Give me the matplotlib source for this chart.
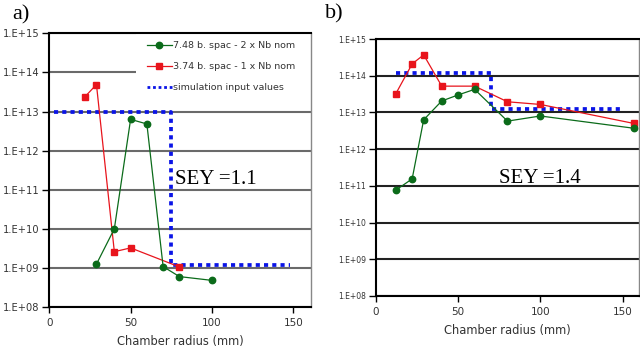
import matplotlib
matplotlib.use("Agg")
import matplotlib.pyplot as plt
from matplotlib.ticker import FuncFormatter, FixedLocator
from matplotlib.patches import Rectangle
from matplotlib.lines import Line2D
import numpy as np

# ---- data (panel a, SEY = 1.1) ----
a_green_x = [29, 40, 50, 60, 70, 80, 100]
a_green_y = [1.25e9, 1.0e10, 6.3e12, 4.8e12, 1.08e9, 6.0e8, 4.8e8]
a_red_x = [22, 29, 40, 50, 80]
a_red_y = [2.4e13, 4.9e13, 2.6e9, 3.25e9, 1.06e9]
a_sim_x = [3, 75, 75, 148]
a_sim_y = [1.0e13, 1.0e13, 1.2e9, 1.2e9]

# ---- data (panel b, SEY = 1.4) ----
b_green_x = [12, 22, 29, 40, 50, 60, 80, 100, 157]
b_green_y = [7.6e10, 1.55e11, 6.3e12, 2.05e13, 3.0e13, 4.25e13, 5.8e12, 8.0e12, 3.7e12]
b_red_x = [12, 22, 29, 40, 60, 80, 100, 157]
b_red_y = [3.2e13, 2.1e14, 3.7e14, 5.2e13, 5.2e13, 1.95e13, 1.65e13, 5.0e12]
b_sim_x = [12, 70, 70, 150]
b_sim_y = [1.16e14, 1.16e14, 1.23e13, 1.23e13]

legend_labels = ["7.48 b. spac - 2 x Nb nom", "3.74 b. spac - 1 x Nb nom", "simulation input values"]
x_ticks = [0, 50, 100, 150]
y_ticks = [1e8, 1e9, 1e10, 1e11, 1e12, 1e13, 1e14, 1e15]
xlabel = "Chamber radius (mm)"

GREEN = "#0b6b1a"
RED = "#e8141c"
BLUE = "#0a14e6"

fig = plt.figure(figsize=(6.4, 3.52), dpi=100)
axA = fig.add_axes([0.0770, 0.1278, 0.4084, 0.7776])
axB = fig.add_axes([0.5875, 0.1591, 0.4109, 0.7301])

def fmt(v, pos):
    e = int(round(np.log10(v)))
    return "1.E+%02d" % e

def style(ax, gridcolor, xmax, ylab_size):
    ax.set_yscale("log")
    ax.set_ylim(1e8, 1e15)
    ax.set_xlim(0, xmax)
    ax.yaxis.set_major_locator(FixedLocator(y_ticks))
    ax.yaxis.set_minor_locator(FixedLocator([]))
    ax.yaxis.set_major_formatter(FuncFormatter(fmt))
    ax.set_xticks(x_ticks)
    ax.tick_params(axis="y", labelsize=ylab_size, length=5, width=1, pad=2,
                   direction="out", labelcolor="#333333")
    ax.tick_params(axis="x", labelsize=7.5, length=4, width=1, pad=4,
                   direction="out", labelcolor="#333333")
    ax.set_axisbelow(True)
    ax.grid(True, axis="y", color=gridcolor, linewidth=1.5)
    for s in ["left", "bottom", "top"]:
        ax.spines[s].set_linewidth(1.5)
    ax.spines["right"].set_linewidth(1.0)
    ax.spines["right"].set_color("#888888")
    ax.set_xlabel(xlabel, fontsize=8.3, color="#333333", labelpad=5)

style(axA, "#6a6a6a", 160.7, 7.1)
style(axB, "#222222", 160.0, 5.5)

for ax, gx, gy, rx, ry, sx, sy in [
    (axA, a_green_x, a_green_y, a_red_x, a_red_y, a_sim_x, a_sim_y),
    (axB, b_green_x, b_green_y, b_red_x, b_red_y, b_sim_x, b_sim_y),
]:
    ax.plot(sx, sy, color=BLUE, linewidth=2.7, dashes=(1.1, 1.1),
            dash_capstyle="butt", zorder=3)
    ax.plot(rx, ry, color=RED, linewidth=0.9, marker="s", markersize=5, zorder=4)
    ax.plot(gx, gy, color=GREEN, linewidth=0.9, marker="o", markersize=4.6, zorder=5)

# white legend area covering the gridlines
axA.add_patch(Rectangle((0.332, 0.76), 0.668, 0.24, transform=axA.transAxes,
                        facecolor="white", edgecolor="none", zorder=1))

handles = [
    Line2D([], [], color=GREEN, linewidth=0.9, marker="o", markersize=4.6),
    Line2D([], [], color=RED, linewidth=0.9, marker="s", markersize=5),
    Line2D([], [], color=BLUE, linewidth=2.0, dashes=(1.0, 1.0), dash_capstyle="butt"),
]
leg = axA.legend(handles, legend_labels,
                 loc="upper left", bbox_to_anchor=(0.352, 0.993),
                 fontsize=6.8, frameon=False, handlelength=2.65, handletextpad=0.12,
                 labelspacing=1.28, borderpad=0.6, borderaxespad=0.0)
leg.set_zorder(2)
for t in leg.get_texts():
    t.set_color("#333333")

axA.text(77, 1.8e11, "SEY =1.1", fontsize=15, family="Liberation Serif",
         ha="left", va="center")
axB.text(75, 1.6e11, "SEY =1.4", fontsize=15, family="Liberation Serif",
         ha="left", va="center")

fig.text(12 / 640, 1 - 5 / 352, "a)", fontsize=16, family="Liberation Serif",
         ha="left", va="top")
fig.text(325 / 640, 1 - 4 / 352, "b)", fontsize=16, family="Liberation Serif",
         ha="left", va="top")

fig.savefig("out.png", dpi=100)
